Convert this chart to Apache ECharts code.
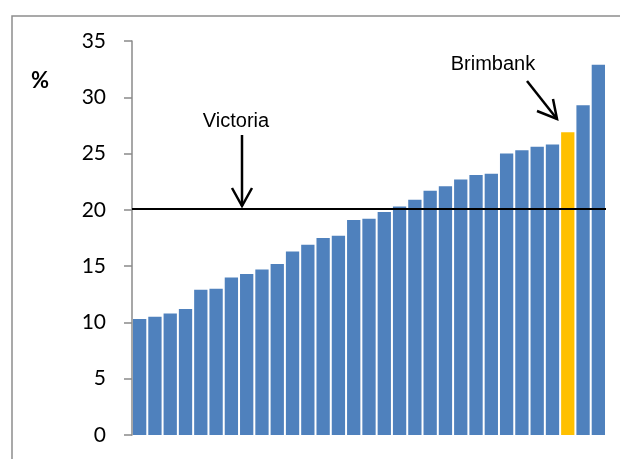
<!DOCTYPE html>
<html>
<head>
<meta charset="utf-8">
<script src="https://cdn.jsdelivr.net/npm/echarts@6/dist/echarts.min.js"></script>
<style>
    html, body { margin: 0; padding: 0; background: #fff; }
    #bar-chart { width: 620px; height: 459px; }
</style>
</head>
<body>
<div id="bar-chart"></div>
<script>
// categories (local government areas, sorted by value), only Brimbank is named in the picture
const categories = ['1', '2', '3', '4', '5', '6', '7', '8', '9', '10',
    '11', '12', '13', '14', '15', '16', '17', '18', '19', '20',
    '21', '22', '23', '24', '25', '26', '27', '28', 'Brimbank', '30', '31'];
// % values
const values = [10.3, 10.5, 10.8, 11.2, 12.9, 13.0, 14.0, 14.3, 14.7, 15.2,
    16.3, 16.9, 17.5, 17.7, 19.1, 19.2, 19.8, 20.3, 20.9, 21.7,
    22.1, 22.7, 23.1, 23.2, 25.0, 25.3, 25.6, 25.8, 26.9, 29.3, 32.9];
const highlight = 'Brimbank';
const victoria = 20.1;
const yTicks = [0, 5, 10, 15, 20, 25, 30, 35];

const chart = echarts.init(document.getElementById('bar-chart'));

// 把 Brimbank 那根柱子換成黃色
const barData = values.map((v, i) => ({
    value: v,
    itemStyle: { color: categories[i] === highlight ? '#FFC000' : '#4F81BD' }
}));

const option = {
    animation: false,
    grid: {
        left: 132,
        top: 41,
        width: 474,
        height: 394
    },
    xAxis: {
        type: 'category',
        data: categories,
        axisLine: { show: false },
        axisTick: { show: false },
        axisLabel: { show: false }
    },
    yAxis: {
        type: 'value',
        min: yTicks[0],
        max: yTicks[yTicks.length - 1],
        interval: 5,
        splitLine: { show: false },
        axisLine: { show: true, lineStyle: { color: '#8a8a8a', width: 1.5 } },
        axisTick: { show: true, length: 8, lineStyle: { color: '#8a8a8a', width: 1.5 } },
        axisLabel: {
            margin: 26,
            color: '#000',
            fontFamily: 'Lato',
            fontSize: 21
        }
    },
    series: [
        {
            type: 'bar',
            data: barData,
            barCategoryGap: '13%',
            markLine: {
                silent: true,
                symbol: 'none',
                label: { show: false },
                lineStyle: { color: '#000', width: 2, type: 'solid' },
                data: [{ yAxis: victoria }]
            }
        }
    ],
    graphic: [
        // outer frame
        {
            type: 'rect',
            shape: { x: 12, y: 16, width: 700, height: 600 },
            style: { fill: 'none', stroke: '#8d8d8d', lineWidth: 1.5 },
            silent: true
        },
        {
            type: 'text',
            left: 31, top: 70,
            style: { text: '%', font: 'bold 22px Lato', fill: '#000' }
        },
        // Victoria annotation
        {
            type: 'text',
            x: 236, y: 121,
            style: {
                text: 'Victoria', font: '20px "Liberation Sans"', fill: '#000',
                align: 'center', verticalAlign: 'middle'
            }
        },
        {
            type: 'polyline',
            shape: { points: [[242, 135], [242, 206]] },
            style: { stroke: '#000', lineWidth: 2.5 }
        },
        {
            type: 'polyline',
            shape: { points: [[232, 188], [242, 206], [252, 188]] },
            style: { stroke: '#000', lineWidth: 2.5, fill: 'none' }
        },
        // Brimbank annotation
        {
            type: 'text',
            x: 493, y: 64,
            style: {
                text: 'Brimbank', font: '20px "Liberation Sans"', fill: '#000',
                align: 'center', verticalAlign: 'middle'
            }
        },
        {
            type: 'polyline',
            shape: { points: [[527, 81], [557, 119]] },
            style: { stroke: '#000', lineWidth: 2.5 }
        },
        {
            type: 'polyline',
            shape: { points: [[537, 111], [557, 119], [553, 99]] },
            style: { stroke: '#000', lineWidth: 2.5, fill: 'none' }
        }
    ]
};

chart.setOption(option);
</script>
</body>
</html>
